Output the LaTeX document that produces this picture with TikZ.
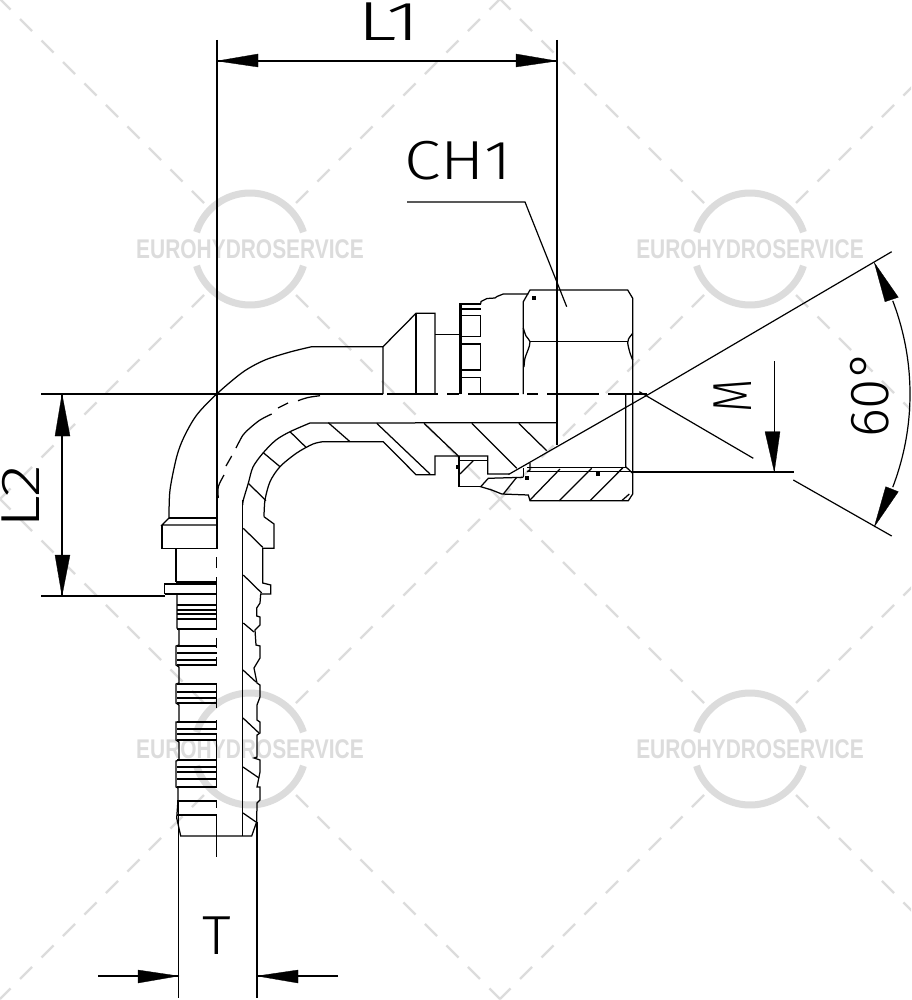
\documentclass[tikz,border=0pt]{standalone}
\usepackage{graphicx}
\usepackage{fontspec}
\setmainfont{Liberation Sans}
\newfontfamily\dimfont{Fira Sans Light}
\definecolor{wmgray}{HTML}{DCDCDC}
\tikzset{
  part/.style={line width=1.25pt,line join=miter,line cap=butt},
  dimline/.style={line width=1.2pt},
  tip/.style={fill=black,draw=black,line width=.3pt},
  wmline/.style={wmgray,line width=2.2pt,dash pattern=on 17pt off 13.4pt},
  wmring/.style={wmgray,line width=7pt},
  wmtext/.style={text=wmgray,inner sep=0pt,font=\bfseries\fontsize{27}{27}\selectfont},
  dimtext/.style={inner sep=0pt,font=\dimfont\fontsize{55}{55}\selectfont},
  dot/.style={fill=black,draw=none}
}
\begin{document}
\begin{tikzpicture}[x=1pt,y=-1pt]
\path[use as bounding box,clip] (0,0) rectangle (911,1000);
\fill[white] (0,0) rectangle (911,1000);
% watermarks
\foreach \cx/\cy/\nm in {250/249/a,750/249/b,250/749/c,750/749/d}{
  \foreach \sx/\sy in {-1/-1,1/-1,-1/1,1/1}
    \draw[wmline] (\cx+\sx*46,\cy+\sy*46) -- (\cx+\sx*250,\cy+\sy*250);
  \draw[wmring] plot[domain=17.5:162.5,samples=50,smooth] ({\cx+56*cos(\x)},{\cy-56*sin(\x)});
  \draw[wmring] plot[domain=17.5:162.5,samples=50,smooth] ({\cx+56*cos(\x)},{\cy+56*sin(\x)});
  \node[wmtext] (wm\nm) at (\cx,\cy) {\scalebox{.775}[1]{EUROHYDROSERVICE}};
}
% ---------- outer body
\draw[part] plot[smooth,tension=.5] coordinates {(169,518) (170,490) (176.7,456.7) (184,437) (196.7,415) (216.7,394) (243,372) (265,360) (290,352) (311.7,346.7)} -- (383,346.7) -- (383,394);
\draw[part] (383,346.7) -- (416,313.3) -- (435,313.3) -- (435,394);
\draw[part] (416,313.3) -- (416,394);
\draw[part] (435,334.3) -- (459.3,334.3);
\draw[part] (459.3,394) -- (459.3,304) -- (481,304) ;
\draw[part] (461,394) -- (461,304);
\draw[part] (461,309) -- (480.7,309);
\draw[part] (461,315.7) rectangle (480.7,336.7);
\draw[part] (461,344) rectangle (480.7,370);
\draw[part] (461,394) -- (461,377.3) -- (480.7,377.3) -- (480.7,394);
\draw[part] (480.7,304) -- (481,301.5) -- (487,298.5) -- (495,298) -- (497,296.5) -- (503.3,294) -- (528.3,294);
% nut
\draw[part] (523.3,394) -- (523.3,301.7) -- (530,290) -- (627.7,290) -- (632.7,298.3) -- (632.7,494) -- (628.3,500.7) -- (530,500.7) -- (528.3,495) -- (501.7,494) -- (491.7,490) -- (480.7,486.7) -- (488.3,478.3) -- (523.3,477.3);
\draw[part] (530,341.7) -- (627.7,341.7);
\draw[part] plot[smooth,tension=.6] coordinates {(523.3,328) (526,336) (530,341.7) (528,350) (525,358) (524,367)};
\draw[part] plot[smooth,tension=.6] coordinates {(632.7,333.3) (628.5,339) (627.7,343) (630,353) (632.7,360)};
\draw[part] (625.7,394) -- (625.7,466.7) -- (632.7,473.3);
\draw[part] (625.7,394) -- (647,394);
\draw[part] (527,467.3) -- (625.7,467.3);
\draw[part] (528,471.7) -- (632.7,471.7);
\draw[part] (523.3,468.3) -- (523.3,477.3);
\draw[part] (530,462.7) -- (530,470) -- (527,471.7);
% nut hatching
\draw[part] (503.3,494) -- (516.7,477.3);
\draw[part] (530,500) -- (560,469);
\draw[part] (559.3,500.7) -- (591.7,468.3);
\draw[part] (590,500.7) -- (623.3,467.3);
\draw[part] (621.7,500.7) -- (629.3,494);
\fill[dot] (532,296.3) rectangle (536,300.3);
\fill[dot] (524.7,476.3) rectangle (528.7,480.3);
\fill[dot] (595.7,472) rectangle (599.7,476);
\fill[dot] (455.7,464.7) rectangle (459.7,468.7);
% bore upper wall
\draw[part] plot[smooth,tension=.5] coordinates {(242.7,505) (243.3,500) (248.3,483.3) (253,467) (263.3,452.7) (276,440) (290,431.7) (310,423)} -- (556,422.7);
\draw[part] (242.7,500) -- (242.7,836);
% lower wall of elbow
\draw[part] plot[smooth,tension=.5] coordinates {(264,516.7) (265,500) (270,481.7) (280,466.7) (296.7,453) (313,444) (323,441.7)} -- (383.3,441.7) -- (416,474.7) -- (435,474.7) -- (435,456) -- (487.7,456) -- (487.7,474) -- (509,474);
\draw[part] (264,516.7) -- (274,524) -- (274,548.3) -- (262.7,548.3) -- (262.7,583) -- (270.7,585) -- (270.7,594) -- (260.7,594) -- (260,603) -- (256.7,608) -- (256.7,616) -- (260,617) -- (260,625) -- (255,630) -- (256,645) -- (260,646) -- (260,658) -- (254,668) -- (257,683) -- (260,685) -- (260,697) -- (257,705) -- (257,720) -- (260,722) -- (260,733) -- (257,735) -- (257,757) -- (254,758) -- (260,760) -- (260,772) -- (257,787) -- (260,787) -- (260,800) -- (257,803) -- (256.7,821.7) -- (251.7,836) -- (180.7,836) -- (176.7,818);
% inner box
\draw[part] (459,456) -- (459,486.7) -- (480.7,486.7);
\draw[part] (459,460.7) -- (487.7,460.7);
\draw[part] (460,474) -- (473.3,460.7);
% section hatching
\draw[part] (376.7,423.3) -- (430,474);
\draw[part] (424,423.3) -- (458.3,456);
\draw[part] (471.7,423.3) -- (516.7,468.3);
\draw[part] (518.7,423.3) -- (546.7,450.7);
\draw[part] (328.3,422.7) -- (350,441.7);
\draw[part] (290,431.7) -- (306,447.3);
\draw[part] (263.3,452.7) -- (280,466.7);
\draw[part] (248.3,483.3) -- (266,500.7);
\draw[part] (243.3,528.3) -- (262.7,547.3);
\draw[part] (243.3,575) -- (261.7,593);
\draw[part] (243.3,623) -- (254,632);
\draw[part] (243,670) -- (256,682);
\draw[part] (243,718) -- (259,733);
\draw[part] (243,767) -- (259,778);
\draw[part] (243,813) -- (256,822);
% hidden bore arc
\draw[part] plot[smooth] coordinates {(298,400.7) (308,397.5) (320,395.7)};
\draw[part] (278,408) -- (288,403);
\draw[part] plot[smooth] coordinates {(236,448) (243,435) (250,428) (260,420) (271.7,414)};
\draw[part] (226,466) -- (231.7,456);
\draw[part] plot[smooth] coordinates {(218.3,498) (218.3,486.7) (224,475)};
% collars and lower left
\draw[part] (169,518) -- (217,518);
\draw[part] (169,518) -- (162,525) -- (217,525);
\draw[part] (162,525) -- (162,548.5) -- (217,548.5);
\draw[part] (176,548.5) -- (176,582);
\draw[part] (176,582) -- (217,582);
\draw[part] (164.5,594) -- (164.5,584) -- (217,584);
\draw[part] (164.5,594) -- (217,594);
\draw[part] (177,594) -- (177,605) -- (177,628) -- (179,630) -- (179,645) -- (176,646) -- (176,665) -- (179,667) -- (179,683) -- (176,684) -- (176,703) -- (179,705) -- (179,722) -- (176,722) -- (176,740) -- (179,742) -- (179,760) -- (176,761) -- (176,787) -- (178,788) -- (178,800) -- (176.7,818);
\foreach \yy in {605,610,614,619,629,646,653,660,665,684,692,698,703,722,729,734,740,760,767,772,779,787,801,815}
  \draw[part] (177,\yy) -- (217,\yy);
% vertical centre line pieces
\foreach \ya/\yb in {557/568,577/630,638/648,657/665,683/708,720/730,735/788,800/808,815/857}
  \draw[part] (216.8,\ya) -- (216.8,\yb);
% centre line horizontal pieces
\foreach \xa/\xb in {387/438,447/459,468/519,527/538,547/599,608/647}
  \draw[part] (\xa,394) -- (\xb,394);
% ---------- dimensions
\coordinate (l1a) at (217,61); \coordinate (l1b) at (557,61);
\coordinate (l2a) at (62,394); \coordinate (l2b) at (62,596);
\coordinate (ta) at (178.5,976); \coordinate (tb) at (257,976);
\coordinate (tl) at (98,976); \coordinate (tr) at (338,976);
\coordinate (ma) at (774.3,361); \coordinate (mb) at (774.3,472);
\coordinate (apex) at (650,393.5);
\draw[dimline] (217,40) -- (217,549);
\draw[dimline] (557,40) -- (557,445);
\draw[dimline] (l1a) -- (l1b);
\fill[tip] (l1a) -- (258,54) -- (258,67) -- cycle;
\fill[tip] (l1b) -- (516,54) -- (516,67) -- cycle;
\draw[dimline] (41,394) -- (383,394);
\draw[dimline] (41,596) -- (165,596);
\draw[dimline] (l2a) -- (l2b);
\fill[tip] (l2a) -- (55,436) -- (70,436) -- cycle;
\fill[tip] (l2b) -- (55,555) -- (70,555) -- cycle;
\draw[dimline] (178.5,800) -- (178.5,998);
\draw[dimline] (257,822) -- (257,998);
\draw[dimline] (tl) -- (ta);
\draw[dimline] (tr) -- (tb);
\fill[tip] (ta) -- (138,970) -- (138,983) -- cycle;
\fill[tip] (tb) -- (298,970) -- (298,983) -- cycle;
\draw[dimline] (ma) -- (mb);
\fill[tip] (mb) -- (765,431.7) -- (780,431.7) -- cycle;
\draw[dimline] (632,472) -- (794,472);
\draw[dimline] (508.5,474.5) -- (apex) -- (891.7,251.7);
\draw[dimline] (639.3,391.7) -- (753.3,458.3);
\draw[dimline] (793.3,480) -- (891.7,536);
\draw[dimline] plot[domain=-21:21,samples=40,smooth] ({650+260*cos(\x)},{394+260*sin(\x)});
\fill[tip] (874.3,262.7) -- (885,301.7) -- (898.3,297.3) -- cycle;
\fill[tip] (874.3,526.7) -- (885.7,486.7) -- (898.3,491.7) -- cycle;
\draw[dimline] (407,202) -- (525,202) -- (566.7,306.7);
% ---------- labels
\node[dimtext] (lblL1) at (389,22) {\scalebox{1.5}[1]{L1}};
\node[dimtext] (lblCH) at (458,161) {\scalebox{1.2}[1]{CH1}};
\node[dimtext,rotate=90] (lblL2) at (21,497) {\scalebox{1.24}[1]{L2}};
\node[dimtext] (lblT) at (217,936) {\scalebox{1.05}[1]{T}};
\node[dimtext,rotate=90] (lblM) at (733,396) {\scalebox{.78}[1]{M}};
\node[dimtext,rotate=90] (lbl60) at (870,394) {60°};
\end{tikzpicture}
\end{document}
